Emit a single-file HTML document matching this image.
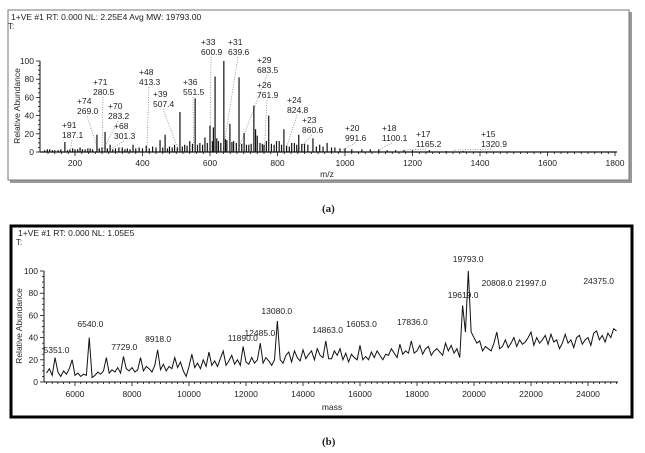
<!DOCTYPE html>
<html><head><meta charset="utf-8"><style>
body{margin:0;background:#fff;width:645px;height:453px;overflow:hidden}
svg{display:block}
text{font-family:"Liberation Sans",sans-serif;fill:#222}
</style></head><body>
<svg id="s" width="645" height="453">
<rect x="10" y="12" width="622" height="171" fill="#999"/>
<rect x="8" y="10" width="621" height="170" fill="#fff" stroke="#777" stroke-width="1"/>
<rect x="11" y="226" width="621" height="191" fill="#fff" stroke="#000" stroke-width="3"/>
<text x="11" y="20" font-size="8.5">1+VE #1  RT: 0.000  NL: 2.25E4  Avg MW: 19793.00</text>
<text x="8" y="29" font-size="8">T:</text>
<text x="18" y="236" font-size="8.5">1+VE #1  RT: 0.000  NL: 1.05E5</text>
<text x="16" y="245" font-size="8">T:</text>
<text x="322" y="212" font-size="11" font-weight="bold" style="font-family:'Liberation Serif',serif">(a)</text>
<text x="322" y="445" font-size="11" font-weight="bold" style="font-family:'Liberation Serif',serif">(b)</text>
<g id="ga"></g><g id="gb"></g>
</svg>
<script>
// Panel A data
const aPeakMz=[110,118,125,133,140,150,158,170,178,185,193,200,208,215,222,230,238,245,252,265,272,280,289,296,304,312,320,330,340,348,355,363,372,380,390,400,411,420,430,440,452,460,467,474,480,488,495,503,511,518,525,532,540,548,556,563,570,578,585,592,600,607,610,615,620,625,632,641,646,650,659,665,670,678,686,694,701,708,715,722,730,735,740,748,755,760,767,774,782,790,797,805,812,819,827,835,842,850,857,863,872,880,890,905,915,925,935,947,960,970,985,1000,1020,1050,1075,1100,1125,1150,1175,1200,1250,1300,1350];
const aPeakInt=[2,3,3,2,2,2,3,11,2,3,4,3,3,5,3,3,4,4,3,19,4,5,22,4,8,3,4,5,5,3,4,3,8,4,5,4,7,4,6,5,13,5,19,4,6,5,8,5,44,6,8,7,12,9,59,8,10,8,16,10,29,12,27,83,15,12,10,100,14,13,31,11,12,10,82,9,21,8,8,9,51,25,18,10,9,8,12,40,9,8,12,12,8,25,7,6,10,10,8,19,9,9,8,15,6,8,6,10,5,5,4,4,3,3,3,3,2,2,2,2,2,1,1];
const aLabels=[["+91","187.1",62,128,187],["+74","269.0",77,104,269],["+71","280.5",93,85,280],["+70","283.2",108,109,283],["+68","301.3",114,129,301],["+48","413.3",139,75,413],["+39","507.4",153,97,507],["+36","551.5",183,85,551],["+33","600.9",201,45,600],["+31","639.6",228,45,639],["+29","683.5",257,63,683],["+26","761.9",257,88,761],["+24","824.8",287,103,824],["+23","860.6",302,123,860],["+20","991.6",345,131,991],["+18","1100.1",382,131,1100],["+17","1165.2",416,137,1165],["+15","1320.9",481,137,1320]];
const aXTicks=[200,400,600,800,1000,1200,1400,1600,1800];
const aYTicks=[0,20,40,60,80,100];
// Panel B data (intensity every 100 Da from 5000 to 25000)
const bStart=5000, bStep=100;
const bInt=[8,12,6,22,9,5,10,7,12,20,
6,8,5,7,6,40,4,6,9,7,
10,22,8,11,9,13,8,23,12,10,
13,9,11,22,10,14,12,9,15,29,
11,16,10,14,12,22,13,18,10,5,
14,25,13,17,12,20,14,27,15,19,
14,21,28,15,19,24,16,20,15,32,
18,16,22,17,20,35,17,22,19,15,
20,55,20,17,24,27,18,28,22,19,
29,21,25,28,20,30,24,22,37,21,
21,28,24,30,20,26,18,25,22,20,
33,20,23,20,27,22,28,24,20,25,
24,30,26,22,34,25,28,26,37,26,
28,33,25,30,32,24,28,30,27,24,
35,28,33,26,30,22,69,45,100,45,
40,35,37,28,32,30,28,35,45,30,
32,38,31,35,40,32,38,34,36,40,
45,33,40,35,38,42,34,43,36,38,
30,35,43,35,38,31,40,42,34,38,
40,33,44,46,38,42,36,44,40,48,
46];
const bLabels=[["5351.0",5351,353],["6540.0",6540,327],["7729.0",7729,350],["8918.0",8918,342],["11890.0",11890,341],["12485.0",12485,336],["13080.0",13080,314],["14863.0",14863,333],["16053.0",16053,327],["17836.0",17836,325],["19619.0",19619,298],["19793.0",19793,262],["20808.0",20808,286],["21997.0",21997,286],["24375.0",24375,284]];
const bXTicks=[6000,8000,10000,12000,14000,16000,18000,20000,22000,24000];
const bYTicks=[0,20,40,60,80,100];

const NS="http://www.w3.org/2000/svg";
function mk(p,tag,at){const e=document.createElementNS(NS,tag);for(const k in at)e.setAttribute(k,at[k]);p.appendChild(e);return e;}
// axes A
const ax=m=>75+(m-200)*0.3375, ay=v=>152-v*0.91;
const ga=document.getElementById('ga');
let l=mk(ga,'line',{x1:40,y1:ay(0),x2:617,y2:ay(0),stroke:'#111','stroke-width':1.2});


l=mk(ga,'line',{x1:40,y1:ay(0),x2:40,y2:ay(100),stroke:'#111','stroke-width':1});


for(let m=120;m<=1800;m+=20){mk(ga,'line',{x1:ax(m),y1:ay(0),x2:ax(m),y2:ay(0)+(m%200==0?4:2),stroke:'#111','stroke-width':0.8});}
for(let v=0;v<=100;v+=5){mk(ga,'line',{x1:40,y1:ay(v),x2:v%20==0?36:38,y2:ay(v),stroke:'#111','stroke-width':0.8});}
aXTicks.forEach(t=>{const e=mk(ga,'text',{x:ax(t),y:166,'font-size':8.5,'text-anchor':'middle'});e.textContent=t;

});
aYTicks.forEach(t=>{const e=mk(ga,'text',{x:34,y:ay(t)+3,'font-size':8.5,'text-anchor':'end'});e.textContent=t;

});
let t=mk(ga,'text',{x:327,y:177,'font-size':8.5,'text-anchor':'middle'});t.textContent='m/z';


t=mk(ga,'text',{x:0,y:0,'font-size':8.5,'text-anchor':'middle',transform:'translate(20,106) rotate(-90)'});t.textContent='Relative Abundance';


aLabels.forEach(a=>{const c=mk(ga,'line',{x1:a[2]+10,y1:a[3]+12,x2:ax(a[4]),y2:ay(2),stroke:'#777','stroke-width':0.7,'stroke-dasharray':'1,1.5'});

});
aPeakMz.forEach((m,i)=>{const e=mk(ga,'line',{x1:ax(m),y1:ay(0),x2:ax(m),y2:ay(aPeakInt[i]),stroke:'#111','stroke-width':1.2});

});
aLabels.forEach(a=>{const e=mk(ga,'text',{x:a[2],y:a[3],'font-size':8.5});e.textContent=a[0];


const f=mk(ga,'text',{x:a[2],y:a[3]+10,'font-size':8.5});f.textContent=a[1];

});
// axes B
const bx=m=>75+(m-6000)*0.0285, by=v=>382-v*1.11;
const gb=document.getElementById('gb');
l=mk(gb,'line',{x1:44,y1:by(0),x2:618,y2:by(0),stroke:'#111','stroke-width':1});


l=mk(gb,'line',{x1:44,y1:by(0),x2:44,y2:by(100),stroke:'#111','stroke-width':1});


for(let m=5000;m<=25000;m+=200){mk(gb,'line',{x1:bx(m),y1:by(0),x2:bx(m),y2:by(0)+(m%2000==0?4:2),stroke:'#111','stroke-width':0.8});}
for(let v=0;v<=100;v+=5){mk(gb,'line',{x1:44,y1:by(v),x2:v%20==0?40:42,y2:by(v),stroke:'#111','stroke-width':0.8});}
bXTicks.forEach(x=>{const e=mk(gb,'text',{x:bx(x),y:397,'font-size':8.5,'text-anchor':'middle'});e.textContent=x;

});
bYTicks.forEach(x=>{const e=mk(gb,'text',{x:38,y:by(x)+3,'font-size':8.5,'text-anchor':'end'});e.textContent=x;

});
t=mk(gb,'text',{x:332,y:410,'font-size':8.5,'text-anchor':'middle'});t.textContent='mass';


t=mk(gb,'text',{x:0,y:0,'font-size':8.5,'text-anchor':'middle',transform:'translate(22,326) rotate(-90)'});t.textContent='Relative Abundance';


const pl=mk(gb,'polyline',{points:bInt.map((v,i)=>bx(bStart+i*bStep)+','+by(v)).join(' '),fill:'none',stroke:'#111','stroke-width':1});


bLabels.forEach(a=>{const e=mk(gb,'text',{x:bx(a[1]),y:a[2],'font-size':8.5,'text-anchor':'middle'});e.textContent=a[0];

});
</script>
</body></html>
